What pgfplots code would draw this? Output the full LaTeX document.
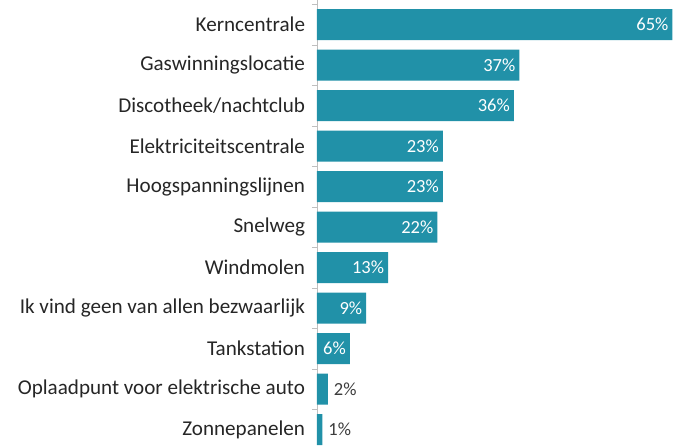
\documentclass[border=0pt]{standalone}
\usepackage{pgfplots}
\pgfplotsset{compat=1.18}
\usepackage{fontspec}
\setmainfont{Carlito}
\definecolor{barc}{RGB}{33,145,168}
\definecolor{lab}{RGB}{38,38,38}
\begin{document}
\begin{tikzpicture}
\begin{axis}[
 name=ax,
 scale only axis, width=362pt, height=445pt,
 xmin=0, xmax=66.2,
 ymin=-0.605, ymax=10.38, y dir=reverse,
 hide x axis,
 axis y line=left,
 y axis line style={draw=gray!50, -},
 ytick={0,...,10},
 yticklabels={Kerncentrale,Gaswinningslocatie,Discotheek/nachtclub,Elektriciteitscentrale,Hoogspanningslijnen,Snelweg,Windmolen,Ik vind geen van allen bezwaarlijk,Tankstation,Oplaadpunt voor elektrische auto,Zonnepanelen},
 major tick length=0pt,
 minor ytick={-0.5,0.5,...,9.5},
 minor tick length=5pt,
 tick align=outside,
 y tick style={draw=gray!50},
 yticklabel style={font=\fontsize{21.1}{23}\selectfont, text=lab, xshift=-8.5pt},
]
\addplot[xbar, bar width=0.765, fill=barc, draw=none, bar shift=0pt] coordinates {
 (65,0) (37,1) (36,2) (23,3) (23,4) (22,5) (13,6) (9,7) (6,8) (2,9) (1,10)};
\addplot[draw=none, mark=none, nodes near coords={\pgfplotspointmeta\%}, point meta=explicit symbolic,
 nodes near coords style={anchor=east, text=white, font=\fontsize{18.5}{20}\selectfont, xshift=-0.5pt}]
 table[meta=lbl] {
x y lbl
65 0 65
37 1 37
36 2 36
23 3 23
23 4 23
22 5 22
13 6 13
9 7 9
6 8 6
};
\addplot[draw=none, mark=none, nodes near coords={\pgfplotspointmeta\%}, point meta=explicit symbolic,
 nodes near coords style={anchor=west, text=lab!90, font=\fontsize{18.5}{20}\selectfont, xshift=2.5pt}]
 table[meta=lbl] {
x y lbl
2 9 2
1 10 1
};
\end{axis}
\pgfresetboundingbox
\useasboundingbox ([xshift=-317pt]ax.south west) rectangle (ax.north east);
\end{tikzpicture}
\end{document}
